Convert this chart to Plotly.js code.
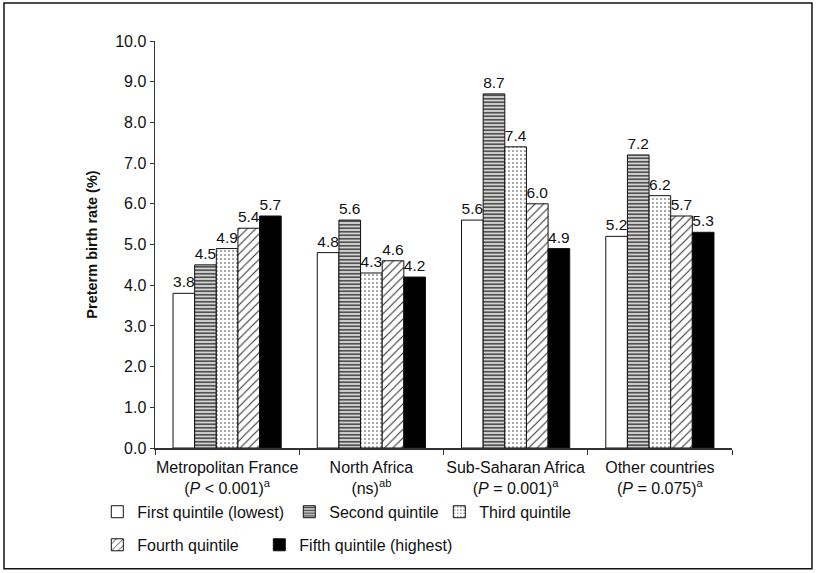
<!DOCTYPE html>
<html>
<head>
<meta charset="utf-8">
<script src="https://cdn.plot.ly/plotly-3.0.1.min.js"></script>
<style>html,body{margin:0;padding:0;background:#fff}#chart{width:816px;height:573px}</style>
</head>
<body>
<div id="chart"></div>
<script>
const categories = [
  "Metropolitan France<br>(<i>P</i> &lt; 0.001)<sup>a</sup>",
  "North Africa<br>(ns)<sup>ab</sup>",
  "Sub-Saharan Africa<br>(<i>P</i> = 0.001)<sup>a</sup>",
  "Other countries<br>(<i>P</i> = 0.075)<sup>a</sup>"
];
const seriesNames = [
  "First quintile (lowest)",
  "Second quintile",
  "Third quintile",
  "Fourth quintile",
  "Fifth quintile (highest)"
];
const firstQuintile  = [3.8, 4.8, 5.6, 5.2];
const secondQuintile = [4.5, 5.6, 8.7, 7.2];
const thirdQuintile  = [4.9, 4.3, 7.4, 6.2];
const fourthQuintile = [5.4, 4.6, 6.0, 5.7];
const fifthQuintile  = [5.7, 4.2, 4.9, 5.3];
const yTickVals = [0,1,2,3,4,5,6,7,8,9,10];
const yTickText = ["0.0","1.0","2.0","3.0","4.0","5.0","6.0","7.0","8.0","9.0","10.0"];

const values = [firstQuintile, secondQuintile, thirdQuintile, fourthQuintile, fifthQuintile];
const styles = [
  {color:"#ffffff", pattern:{shape:""}, legend:"legend", lw:147},
  {color:"#ffffff", pattern:{shape:"-", fgcolor:"#444", bgcolor:"#d4d4d4", size:3.5, solidity:0.45, fillmode:"replace"}, legend:"legend", lw:105},
  {color:"#ffffff", pattern:{shape:".", fgcolor:"#333", bgcolor:"#ffffff", size:4, solidity:0.12, fillmode:"replace"}, legend:"legend", lw:100},
  {color:"#ffffff", pattern:{shape:"/", fgcolor:"#333", bgcolor:"#ffffff", size:6, solidity:0.18, fillmode:"replace"}, legend:"legend2", lw:117},
  {color:"#000000", pattern:{shape:""}, legend:"legend2", lw:170}
];
const fontFam = "Liberation Sans, Arial, sans-serif";
const traces = values.map((v,i)=>({
  type:"bar",
  name: seriesNames[i],
  x: categories,
  y: v,
  text: v.map(n=>n.toFixed(1)),
  textposition:"outside",
  textfont:{family:fontFam,size:16,color:"#111"},
  cliponaxis:false,
  marker:{color:styles[i].color, pattern:styles[i].pattern, line:{color:"#111",width:1}},
  legend: styles[i].legend,
  legendwidth: styles[i].lw
}));

const layout = {
  width:816, height:573,
  margin:{l:155, r:84, t:41, b:124},
  paper_bgcolor:"#fff", plot_bgcolor:"#fff",
  font:{family:fontFam, size:16, color:"#111"},
  barmode:"group", bargap:0.25, bargroupgap:0,
  showlegend:true,
  legend:{orientation:"h", x:-0.1, xanchor:"left", y:-0.154, yanchor:"middle",
    font:{size:16,color:"#111"}, bgcolor:"rgba(0,0,0,0)", traceorder:"normal", itemclick:false},
  legend2:{orientation:"h", x:-0.1, xanchor:"left", y:-0.235, yanchor:"middle",
    font:{size:16,color:"#111"}, bgcolor:"rgba(0,0,0,0)", traceorder:"normal", itemclick:false},
  xaxis:{
    type:"category", showline:true, linecolor:"#333", linewidth:1.5,
    ticks:"outside", tickson:"boundaries", ticklen:5, tickcolor:"#333",
    showgrid:false, zeroline:false, fixedrange:true, tickangle:0,
    ticklabelstandoff:4,
    tickfont:{size:16,color:"#111"}
  },
  yaxis:{
    range:[0,10], showline:true, linecolor:"#333", linewidth:1.5,
    ticks:"outside", ticklen:4, tickcolor:"#333",
    tickvals:yTickVals, ticktext:yTickText,
    showgrid:false, zeroline:false, fixedrange:true,
    tickfont:{size:16,color:"#111"},
    title:{text:"<b>Preterm birth rate (%)</b>", font:{size:14.5,color:"#111"}, standoff:14}
  },
  shapes:[{type:"rect", xref:"paper", yref:"paper",
    x0:-0.2617, x1:1.1386, y0:-0.2966, y1:1.0931,
    line:{color:"#111", width:1.5}, fillcolor:"rgba(0,0,0,0)", layer:"below"}]
};
Plotly.newPlot("chart", traces, layout, {displayModeBar:false, staticPlot:true});
</script>
</body>
</html>
